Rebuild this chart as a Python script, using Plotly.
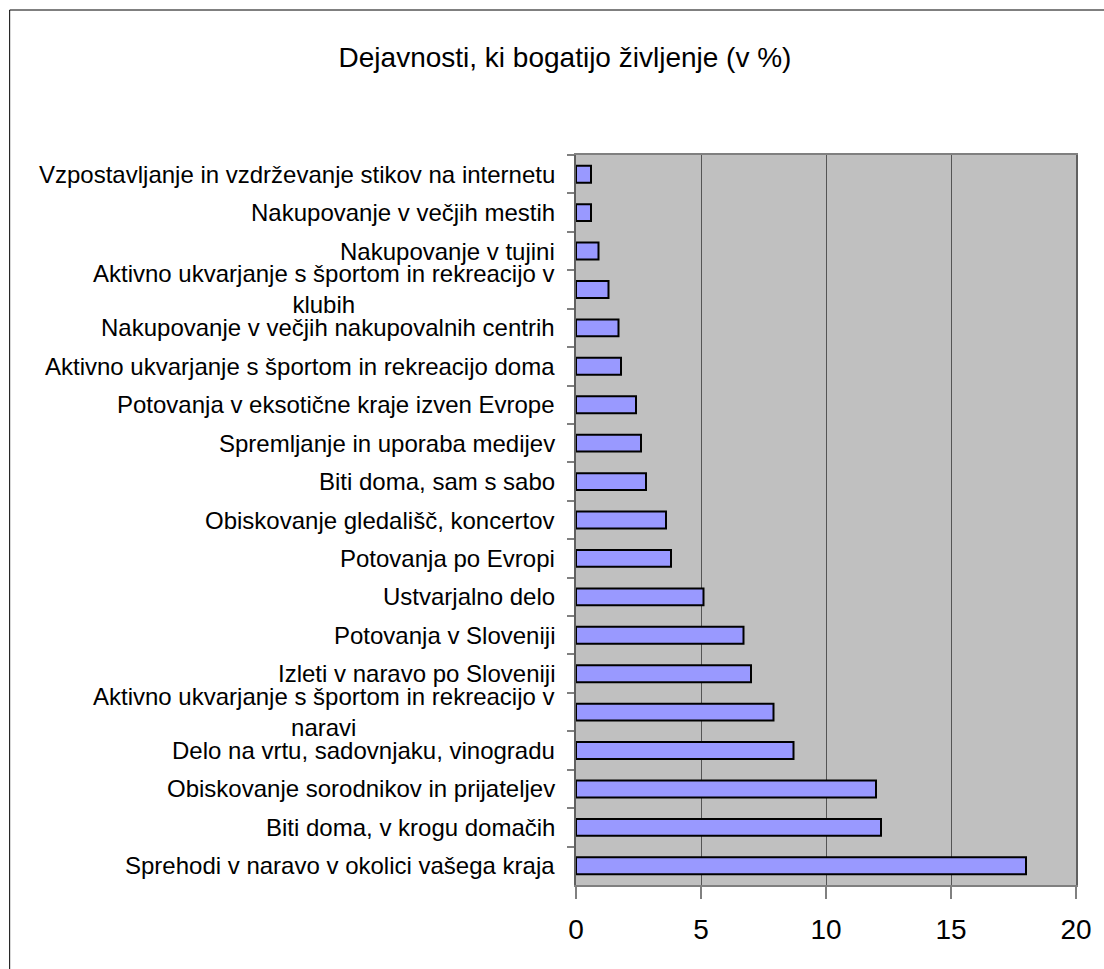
import plotly.graph_objects as go

# Data (top to bottom as shown)
categories = [
    "Vzpostavljanje in vzdrževanje stikov na internetu",
    "Nakupovanje v večjih mestih",
    "Nakupovanje v tujini",
    "Aktivno ukvarjanje s športom in rekreacijo v<br>klubih",
    "Nakupovanje v večjih nakupovalnih centrih",
    "Aktivno ukvarjanje s športom in rekreacijo doma",
    "Potovanja v eksotične kraje izven Evrope",
    "Spremljanje in uporaba medijev",
    "Biti doma, sam s sabo",
    "Obiskovanje gledališč, koncertov",
    "Potovanja po Evropi",
    "Ustvarjalno delo",
    "Potovanja v Sloveniji",
    "Izleti v naravo po Sloveniji",
    "Aktivno ukvarjanje s športom in rekreacijo v<br>naravi",
    "Delo na vrtu, sadovnjaku, vinogradu",
    "Obiskovanje sorodnikov in prijateljev",
    "Biti doma, v krogu domačih",
    "Sprehodi v naravo v okolici vašega kraja",
]
values = [0.6, 0.6, 0.9, 1.3, 1.7, 1.8, 2.4, 2.6, 2.8, 3.6, 3.8, 5.1,
          6.7, 7.0, 7.9, 8.7, 12.0, 12.2, 18.0]
x_ticks = [0, 5, 10, 15, 20]
title_text = "Dejavnosti, ki bogatijo življenje (v %)"

W, H = 1104, 969
L, R, T, B = 576, W - 1081, 155, H - 885
FONT = "Liberation Sans, Arial, sans-serif"

fig = go.Figure()
fig.add_trace(go.Bar(
    y=categories, x=values, orientation="h",
    marker=dict(color="#9999FF", line=dict(color="#000000", width=2)),
    hoverinfo="x+y",
))

annotations = []
for c in categories:
    annotations.append(dict(
        x=0, xref="paper", y=c, yref="y", text=c, showarrow=False,
        xanchor="right", yanchor="middle", xshift=-19, align="center",
        font=dict(family=FONT, size=24, color="#000000"),
    ))

pw, ph = W - L - R, H - T - B
fx0 = (4 - L) / pw
fy1 = (H - B - 10) / ph
shapes = [dict(type="rect", xref="paper", yref="paper",
               x0=fx0, x1=2.0, y0=-1.0, y1=fy1,
               line=dict(color="#000000", width=1), fillcolor="rgba(0,0,0,0)",
               layer="above")]

fig.update_layout(
    width=W, height=H,
    margin=dict(l=L, r=R, t=T, b=B, pad=0),
    paper_bgcolor="#FFFFFF", plot_bgcolor="#C0C0C0",
    bargap=0.56,
    showlegend=False,
    title=dict(text=title_text, x=565 / W, xanchor="center", xref="container",
               y=1 - 57 / H, yanchor="middle", yref="container",
               font=dict(family=FONT, size=28, color="#000000")),
    annotations=annotations,
    shapes=shapes,
    font=dict(family=FONT),
)
fig.update_xaxes(
    range=[0, 20], tickvals=x_ticks, ticktext=[str(v) for v in x_ticks],
    showgrid=True, gridcolor="#555555", gridwidth=1.2,
    zeroline=False,
    showline=True, linecolor="#808080", linewidth=1.5, mirror=True,
    ticks="outside", ticklen=12, tickcolor="#808080", tickwidth=1.5,
    ticklabelstandoff=7,
    tickfont=dict(family=FONT, size=28, color="#000000"),
)
fig.update_yaxes(
    autorange="reversed", type="category",
    showticklabels=False, showgrid=False, zeroline=False,
    showline=True, linecolor="#606060", linewidth=2, mirror=True,
    ticks="outside", tickson="boundaries", ticklen=7, tickcolor="#808080", tickwidth=1.5,
)

fig.write_html("out.html", config={"displayModeBar": False},
               post_script="document.body.style.margin='0';")
